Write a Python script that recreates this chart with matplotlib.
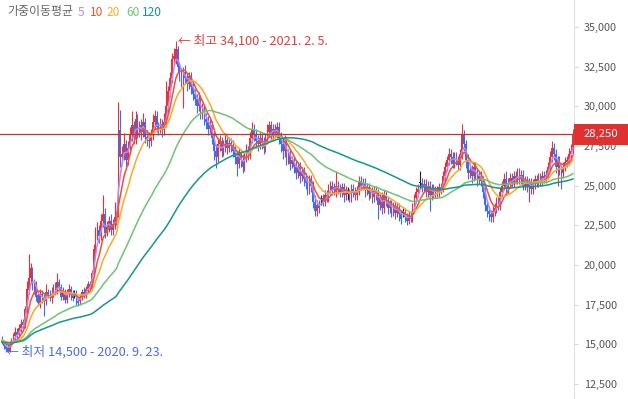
import matplotlib
matplotlib.use("Agg")
import matplotlib.pyplot as plt
from matplotlib.patches import Rectangle
from matplotlib.transforms import blended_transform_factory
from matplotlib.ticker import FuncFormatter
import numpy as np

plt.rcParams["font.family"] = ["Noto Sans CJK KR", "DejaVu Sans"]

# closes before the visible window, only used to seed the moving averages (100 won units)
history_closes = [
    143, 141, 144, 142, 145, 143, 140, 142, 144, 146,
    144, 142, 143, 145, 147, 145, 143, 144, 146, 148,
    146, 145, 147, 149, 147, 146, 148, 150, 149, 151,
    150, 152, 151, 153, 155, 153, 151, 154, 156, 154,
    152, 150, 153, 155, 157, 155, 153, 151, 152, 154,
    156, 154, 152, 150, 152, 154, 153, 151, 152, 153,
]

# daily candles, prices in units of 100 won
opens = [
    153, 151, 149, 148, 146, 150, 152, 155, 158, 156,
    160, 164, 162, 172, 184, 192, 197, 185, 189, 181,
    176, 182, 180, 177, 183, 181, 179, 182, 186, 184,
    189, 186, 180, 183, 178, 182, 185, 181, 182, 182,
    177, 177, 180, 183, 181, 185, 188, 186, 195, 210,
    220, 222, 218, 228, 232, 220, 224, 228, 222, 226,
    230, 232, 285, 268, 270, 276, 266, 274, 282, 288,
    280, 292, 284, 288, 284, 290, 281, 279, 278, 282,
    290, 294, 287, 286, 289, 285, 290, 300, 310, 318,
    330, 330, 336, 325, 320, 316, 322, 318, 314, 319,
    312, 308, 305, 300, 304, 296, 298, 292, 290, 286,
    288, 280, 272, 268, 276, 278, 272, 275, 279, 274,
    277, 275, 272, 268, 264, 270, 266, 262, 268, 272,
    270, 280, 286, 282, 278, 276, 280, 277, 274, 279,
    284, 288, 282, 286, 283, 287, 280, 276, 272, 278,
    268, 270, 264, 266, 262, 258, 262, 256, 259, 254,
    252, 248, 254, 250, 240, 234, 238, 242, 242, 240,
    244, 243, 248, 250, 247, 246, 250, 248, 246, 249,
    244, 245, 245, 243, 248, 246, 244, 247, 253, 250,
    252, 247, 249, 245, 246, 243, 247, 245, 238, 242,
    236, 244, 240, 236, 238, 234, 237, 233, 236, 232,
    233, 233, 230, 228, 231, 229, 236, 242, 246, 252,
    252, 249, 251, 246, 250, 244, 248, 245, 247, 246,
    249, 248, 256, 262, 266, 270, 268, 264, 268, 266,
    263, 270, 282, 276, 266, 258, 260, 256, 262, 258,
    254, 256, 253, 246, 238, 234, 232, 230, 234, 236,
    240, 238, 246, 250, 254, 248, 252, 255, 252, 256,
    254, 258, 254, 257, 250, 253, 249, 252, 248, 251,
    254, 252, 255, 253, 256, 255, 257, 262, 268, 274,
    270, 262, 266, 260, 258, 262, 265, 266, 270, 272,
]
highs = [
    155, 153, 151, 150, 152, 154, 157, 161, 160, 163,
    166, 166, 174, 190, 207, 201, 199, 191, 190, 184,
    185, 184, 182, 188, 185, 184, 186, 188, 189, 195,
    191, 188, 186, 185, 185, 188, 187, 184, 184, 184,
    179, 182, 185, 186, 187, 190, 190, 197, 213, 224,
    227, 225, 232, 244, 236, 228, 231, 232, 229, 240,
    234, 303, 298, 275, 283, 279, 278, 287, 297, 291,
    297, 295, 291, 292, 296, 293, 285, 282, 286, 295,
    298, 297, 290, 293, 292, 296, 316, 313, 322, 334,
    337, 341, 338, 328, 324, 325, 326, 321, 322, 322,
    315, 311, 308, 309, 307, 302, 301, 296, 294, 292,
    291, 284, 276, 280, 282, 281, 279, 283, 282, 281,
    280, 279, 275, 272, 274, 273, 270, 272, 276, 275,
    284, 290, 289, 286, 282, 284, 283, 281, 283, 289,
    291, 291, 289, 289, 290, 290, 284, 280, 282, 281,
    273, 273, 269, 269, 266, 265, 265, 262, 262, 258,
    255, 257, 257, 253, 244, 241, 241, 244, 245, 247,
    247, 251, 253, 253, 252, 259, 253, 251, 252, 252,
    250, 249, 248, 251, 251, 249, 250, 256, 256, 255,
    255, 252, 252, 249, 249, 250, 250, 248, 245, 246,
    247, 247, 243, 241, 241, 240, 240, 239, 239, 235,
    236, 236, 233, 234, 234, 239, 245, 249, 251, 259,
    255, 254, 254, 253, 253, 251, 251, 250, 250, 252,
    252, 259, 265, 269, 274, 273, 271, 271, 271, 269,
    273, 289, 285, 279, 270, 263, 263, 265, 265, 261,
    259, 259, 256, 249, 241, 237, 235, 237, 239, 243,
    243, 249, 253, 258, 259, 255, 258, 258, 259, 259,
    261, 261, 260, 260, 256, 256, 255, 255, 254, 257,
    257, 258, 258, 259, 259, 260, 265, 272, 278, 277,
    273, 269, 269, 263, 265, 268, 269, 274, 276, 286,
]
lows = [
    150, 147, 145, 145, 145, 149, 151, 153, 154, 155,
    158, 160, 160, 170, 182, 188, 184, 182, 177, 174,
    173, 176, 168, 175, 179, 177, 176, 180, 181, 182,
    184, 178, 178, 176, 176, 180, 178, 177, 179, 175,
    174, 175, 178, 179, 179, 183, 184, 184, 193, 207,
    216, 214, 216, 224, 217, 218, 221, 219, 219, 223,
    225, 230, 262, 264, 266, 262, 263, 270, 278, 276,
    276, 280, 281, 279, 281, 277, 275, 274, 275, 279,
    286, 284, 282, 283, 281, 282, 287, 296, 306, 315,
    326, 327, 322, 316, 312, 299, 314, 310, 311, 308,
    304, 301, 296, 297, 292, 292, 288, 286, 282, 283,
    276, 266, 261, 265, 272, 268, 269, 271, 270, 271,
    271, 268, 264, 256, 261, 262, 258, 259, 265, 266,
    267, 277, 278, 274, 272, 273, 273, 270, 271, 276,
    281, 278, 279, 280, 280, 276, 271, 267, 268, 263,
    264, 260, 261, 258, 254, 255, 252, 253, 250, 248,
    244, 245, 246, 236, 231, 231, 233, 238, 237, 237,
    240, 240, 245, 244, 244, 243, 245, 243, 243, 240,
    241, 241, 240, 240, 243, 241, 241, 244, 247, 247,
    243, 244, 241, 242, 239, 240, 241, 229, 235, 232,
    233, 237, 232, 233, 230, 231, 229, 230, 228, 226,
    230, 227, 225, 226, 227, 227, 233, 239, 243, 248,
    246, 246, 243, 243, 234, 241, 242, 242, 243, 243,
    245, 246, 253, 259, 263, 264, 261, 261, 263, 260,
    260, 267, 272, 261, 254, 255, 252, 253, 254, 250,
    251, 250, 242, 234, 230, 228, 227, 227, 231, 233,
    235, 235, 243, 247, 245, 245, 249, 249, 249, 251,
    251, 251, 251, 247, 247, 246, 240, 245, 245, 248,
    249, 249, 250, 250, 252, 252, 254, 259, 265, 266,
    258, 250, 257, 248, 255, 259, 262, 263, 267, 270,
]
closes = [
    151, 149, 147, 146, 150, 152, 155, 158, 156, 160,
    163, 162, 172, 185, 192, 198, 186, 188, 180, 176,
    182, 180, 177, 183, 181, 179, 182, 185, 184, 189,
    186, 180, 183, 178, 182, 185, 181, 179, 182, 177,
    176, 180, 183, 181, 185, 188, 186, 195, 210, 220,
    222, 218, 228, 232, 220, 224, 228, 222, 226, 230,
    228, 285, 268, 270, 276, 266, 274, 282, 288, 280,
    292, 284, 288, 284, 290, 281, 279, 278, 282, 290,
    294, 287, 286, 289, 285, 290, 300, 310, 318, 330,
    332, 336, 325, 320, 316, 322, 318, 314, 319, 312,
    308, 305, 300, 304, 296, 298, 292, 290, 286, 288,
    280, 272, 268, 276, 278, 272, 275, 279, 274, 277,
    275, 272, 268, 264, 270, 266, 262, 268, 272, 270,
    280, 286, 282, 278, 276, 280, 277, 274, 279, 284,
    288, 282, 286, 283, 287, 280, 276, 272, 278, 268,
    270, 264, 266, 262, 258, 262, 256, 259, 254, 252,
    248, 254, 250, 240, 234, 238, 236, 242, 240, 244,
    243, 248, 250, 247, 249, 250, 248, 246, 249, 244,
    247, 245, 243, 248, 246, 244, 247, 253, 250, 252,
    247, 249, 245, 246, 243, 247, 245, 238, 242, 236,
    244, 240, 236, 238, 234, 237, 233, 236, 232, 229,
    233, 230, 228, 231, 229, 236, 242, 246, 248, 252,
    249, 251, 246, 250, 244, 248, 245, 247, 246, 249,
    248, 256, 262, 266, 270, 268, 264, 268, 266, 263,
    270, 282, 276, 266, 258, 260, 256, 262, 258, 254,
    256, 253, 246, 238, 234, 232, 230, 234, 236, 240,
    238, 246, 250, 254, 248, 252, 255, 252, 256, 254,
    258, 254, 257, 250, 253, 249, 252, 248, 251, 254,
    252, 255, 253, 256, 255, 257, 262, 268, 274, 270,
    262, 266, 260, 258, 262, 265, 266, 270, 272, 282.5,
]

ma_periods = [5, 10, 20, 60, 120]
ma_colors = ["#b48cf2", "#f2522e", "#f6a92e", "#72c274", "#17958f"]
y_ticks = [12500, 15000, 17500, 20000, 22500, 25000, 27500, 30000, 32500, 35000]
last_price = 28250
high_price, high_idx = 34100, 91
low_price, low_idx = 14500, 3
high_label = "← 최고 34,100 - 2021. 2. 5."
low_label = "← 최저 14,500 - 2020. 9. 23."

RED = "#e8323a"
BLUE = "#3c6cf0"


def weighted_ma(values, period):
    out = []
    for i in range(len(values)):
        window = values[max(0, i - period + 1): i + 1]
        w = np.arange(1, len(window) + 1)
        out.append(np.dot(window, w) / w.sum())
    return np.array(out)


o = np.array(opens, dtype=float) * 100
h = np.array(highs, dtype=float) * 100
l = np.array(lows, dtype=float) * 100
c = np.array(closes, dtype=float) * 100
full_c = np.concatenate([np.array(history_closes, dtype=float) * 100, c])
n = len(c)
x = np.arange(n)

W, H = 628, 399
Y0, Y1 = 11548, 36714
fig = plt.figure(figsize=(W / 100, H / 100), dpi=100, facecolor="white")
ax = fig.add_axes([0, 0, 574 / W, 1])
ax.set_facecolor("white")

colors = np.where(c > o, RED, np.where(c < o, BLUE, "#222222"))
ax.vlines(x, np.minimum(l, np.minimum(o, c)), np.maximum(h, np.maximum(o, c)),
          colors=colors, linewidth=0.8, zorder=2)
body_low = np.minimum(o, c)
body_h = np.abs(c - o)
flat = body_h < 60
body_low = np.where(flat, c - 30, body_low)
body_h = np.where(flat, 60, body_h)
ax.bar(x, body_h, bottom=body_low, width=0.85, color=colors, linewidth=0, zorder=2)

for period, col in zip(ma_periods, ma_colors):
    ma = weighted_ma(full_c, period)[len(history_closes):]
    ax.plot(x, ma, color=col, linewidth=1.1, zorder=3)

ax.axhline(last_price, color="#c9302c", linewidth=0.9, zorder=4)

ax.set_xlim(-1, n - 0.4)
ax.set_ylim(Y0, Y1)
ax.set_xticks([])
ax.yaxis.tick_right()
ax.set_yticks(y_ticks)
ax.yaxis.set_major_formatter(FuncFormatter(lambda v, _p: f"{v:,.0f}"))
ax.tick_params(axis="y", length=3, width=0.8, color="#d8d8d8", labelsize=7.8,
               labelcolor="#555555", pad=4)
for side in ["top", "left", "bottom"]:
    ax.spines[side].set_visible(False)
ax.spines["right"].set_color("#e2e2e2")
ax.spines["right"].set_linewidth(0.8)

# current price tag on the axis
trans = blended_transform_factory(fig.transFigure, ax.transData)
px_val = (Y1 - Y0) / H
ax.add_patch(Rectangle((574 / W, last_price - 10.5 * px_val), 54 / W, 21 * px_val,
                       transform=trans, facecolor="#e0302f", edgecolor="none",
                       clip_on=False, zorder=5))
ax.text(601 / W, last_price, f"{last_price:,}", transform=trans, ha="center",
        va="center", color="white", fontsize=8.2, clip_on=False, zorder=6)

ax.annotate(high_label, xy=(high_idx, high_price), xytext=(2, 0), textcoords="offset points",
            ha="left", va="center", color="#e0403a", fontsize=9.2)
ax.annotate(low_label, xy=(low_idx, low_price), xytext=(-1.5, 0), textcoords="offset points",
            ha="left", va="center", color="#4d6de0", fontsize=9.2)

# legend line at top-left
legend_items = [("가중이동평균", "#666666", 7)] + [
    (str(p), col, xp) for p, col, xp in zip(ma_periods, ma_colors, [78, 90, 107, 126, 142])
]
for label, col, xp in legend_items:
    fig.text(xp / W, 1 - 12 / H, label, color=col, fontsize=8.6, ha="left", va="center")

fig.savefig("out.png", dpi=100, facecolor="white")
